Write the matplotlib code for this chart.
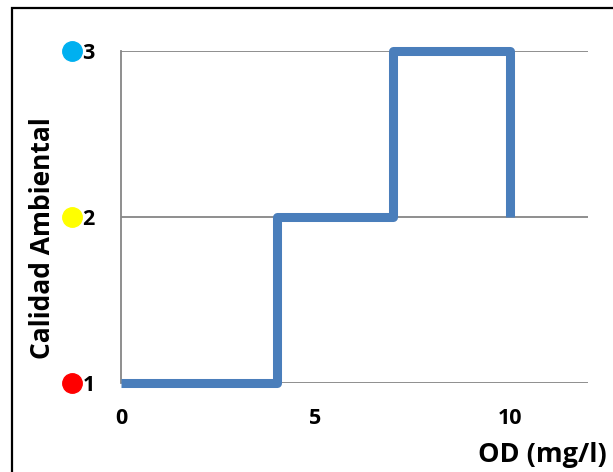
import matplotlib
matplotlib.use("Agg")
import matplotlib.pyplot as plt
from matplotlib.patches import Rectangle
from matplotlib.transforms import blended_transform_factory

# Step curve: OD (mg/l) vs environmental quality class
od_values = [0, 4, 4, 7, 7, 10, 10]
calidad_values = [1, 1, 2, 2, 3, 3, 2]
x_ticks = [0, 5, 10]
y_ticks = [1, 2, 3]
class_colors = ["#ff0000", "#ffff00", "#00b0f0"]

plt.rcParams["font.family"] = ["Open Sans", "DejaVu Sans"]
plt.rcParams["font.weight"] = "bold"

fig = plt.figure(figsize=(6.13, 4.72), dpi=100)
ax = fig.add_axes([121 / 613, 1 - 383 / 472, 467 / 613, 332 / 472])

# outer chart frame (only top-left visible in the original crop)
fig.patches.append(Rectangle((12 / 613, -0.1), 1.2, 1.1 - 8 / 472,
                             transform=fig.transFigure, fill=False,
                             edgecolor="black", linewidth=1.6))

ax.plot(od_values, calidad_values, color="#4a7ebb", linewidth=6.5,
        solid_joinstyle="round", solid_capstyle="butt", clip_on=False, zorder=3)

ax.set_xlim(0, 12)
ax.set_ylim(1, 3)
ax.set_xticks(x_ticks)
ax.set_yticks(y_ticks)
ax.tick_params(axis="both", length=0, labelsize=15.5)
ax.tick_params(axis="y", pad=19)
ax.tick_params(axis="x", pad=18)
ax.yaxis.grid(True, color="#868686", linewidth=1.3)
ax.set_axisbelow(True)

for side in ["top", "right", "bottom"]:
    ax.spines[side].set_visible(False)
ax.spines["left"].set_color("#868686")
ax.spines["left"].set_linewidth(1.3)

# coloured class markers next to the y tick labels
trans = blended_transform_factory(ax.transAxes, ax.transData)
for yv, col in zip(y_ticks, class_colors):
    ax.plot(-0.105, yv, "o", color=col, markersize=14, transform=trans, clip_on=False)

ax.set_ylabel("Calidad Ambiental", fontsize=19, fontweight="bold")
ax.yaxis.set_label_coords(-0.14, 0.435)
fig.text(607 / 613, 1 - 455 / 472, "OD (mg/l)", ha="right", va="center",
         fontsize=19.5, fontweight="bold")

fig.savefig("out.png", dpi=100)
